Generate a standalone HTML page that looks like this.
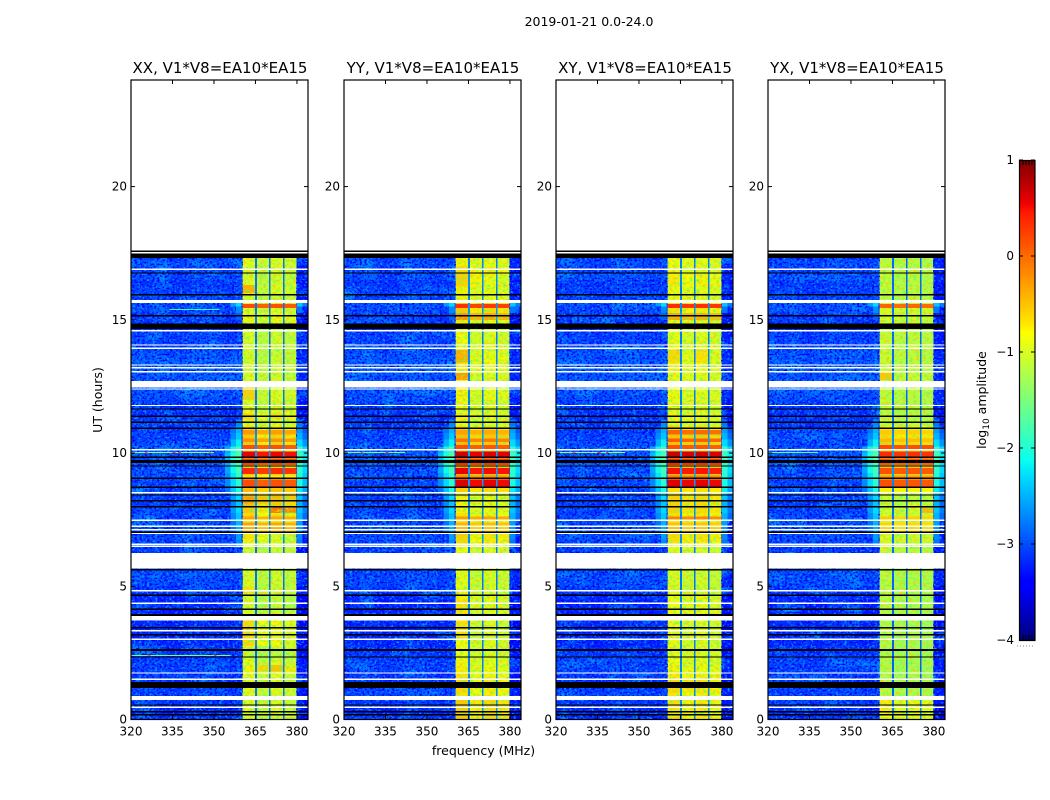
<!DOCTYPE html>
<html lang="en">
<head>
<meta charset="utf-8">
<title>2019-01-21 spectrogram</title>
<style>
html,body{margin:0;padding:0;background:#fff;width:1050px;height:800px;overflow:hidden}
svg{display:block}
text{font-family:"DejaVu Sans","Liberation Sans",sans-serif;fill:#000}
.tick{font-size:12px}
.title{font-size:15px;text-anchor:middle}
.label{font-size:12.5px}
</style>
</head>
<body>
<svg id="chart" xmlns="http://www.w3.org/2000/svg" width="1050" height="800" viewBox="0 0 1050 800">
  <defs>
    <filter id="grain-light" x="0%" y="0%" width="100%" height="100%" color-interpolation-filters="sRGB">
      <feTurbulence type="fractalNoise" baseFrequency="0.36 0.46" numOctaves="2" seed="4"/>
      <feColorMatrix type="matrix" values="0 0 0 0 0  0 0 0 0 0.6  0 0 0 0 1  5 0 0 0 -2.6"/>
    </filter>
    <filter id="grain-dark" x="0%" y="0%" width="100%" height="100%" color-interpolation-filters="sRGB">
      <feTurbulence type="fractalNoise" baseFrequency="0.4 0.5" numOctaves="2" seed="11"/>
      <feColorMatrix type="matrix" values="0 0 0 0 0  0 0 0 0 0  0 0 0 0 1  0 5 0 0 -2.4"/>
    </filter>
    <filter id="grain-patch" x="0%" y="0%" width="100%" height="100%" color-interpolation-filters="sRGB">
      <feTurbulence type="fractalNoise" baseFrequency="0.045 0.07" numOctaves="2" seed="23"/>
      <feColorMatrix type="matrix" values="0 0 0 0 0  0 0 0 0 0.7  0 0 0 0 1  2.4 0 0 0 -1.3"/>
    </filter>
    <filter id="grain-band-green" x="0%" y="0%" width="100%" height="100%" color-interpolation-filters="sRGB">
      <feTurbulence type="fractalNoise" baseFrequency="0.3 0.4" numOctaves="2" seed="31"/>
      <feColorMatrix type="matrix" values="0 0 0 0 0.35  0 0 0 0 1  0 0 0 0 0.4  3 0 0 0 -1.5"/>
    </filter>
    <filter id="grain-band-amber" x="0%" y="0%" width="100%" height="100%" color-interpolation-filters="sRGB">
      <feTurbulence type="fractalNoise" baseFrequency="0.3 0.4" numOctaves="2" seed="37"/>
      <feColorMatrix type="matrix" values="0 0 0 0 1  0 0 0 0 0.78  0 0 0 0 0  0 3 0 0 -1.5"/>
    </filter>
    <linearGradient id="jet-gradient" x1="0" y1="1" x2="0" y2="0">
      <stop offset="0" stop-color="#00007f"/>
      <stop offset="0.11" stop-color="#0000ff"/>
      <stop offset="0.125" stop-color="#0000ff"/>
      <stop offset="0.34" stop-color="#00dcff"/>
      <stop offset="0.375" stop-color="#09ffee"/>
      <stop offset="0.5" stop-color="#7cff79"/>
      <stop offset="0.64" stop-color="#ffff00"/>
      <stop offset="0.66" stop-color="#ffe600"/>
      <stop offset="0.89" stop-color="#ff1a00"/>
      <stop offset="0.91" stop-color="#ee0000"/>
      <stop offset="1" stop-color="#7f0000"/>
    </linearGradient>
  </defs>
  <text x="589" y="26" text-anchor="middle" class="label">2019-01-21 0.0-24.0</text>
  <g id="panels"></g>
  <text class="label" text-anchor="middle" transform="translate(102,400) rotate(-90)">UT (hours)</text>
  <text class="label" text-anchor="middle" x="483.5" y="755">frequency (MHz)</text>
  <g id="colorbar">
    <rect x="1019" y="160" width="16" height="480" fill="url(#jet-gradient)"/>
    <rect x="1019.5" y="160.5" width="15.5" height="480" fill="none" stroke="#000" stroke-width="1.2"/>
    <text class="label" text-anchor="middle" transform="translate(986,400) rotate(-90)">log<tspan font-size="9" dy="3">10</tspan><tspan dy="-3"> amplitude</tspan></text>
    <line x1="1017" y1="646" x2="1035" y2="646" stroke="#888" stroke-width="1" stroke-dasharray="1 2"/>
  </g>
</svg>
<script>
// ---------- chart data ----------
var panelTitles = ['XX, V1*V8=EA10*EA15', 'YY, V1*V8=EA10*EA15', 'XY, V1*V8=EA10*EA15', 'YX, V1*V8=EA10*EA15'];
var xTickValues = [320, 335, 350, 365, 380];
var yTickValues = [0, 5, 10, 15, 20];
var colorbarTickValues = [-4, -3, -2, -1, 0, 1];
var colorbarTickLabels = ['\u22124', '\u22123', '\u22122', '\u22121', '0', '1'];

// in-band log10 amplitude, one value per 0.25 h row from 0 h to 17.5 h
var levelsXX = [
 -1.0,-1.0,-1.0,-1.0,
 -0.95,-0.95,-0.95,-0.85,
 -1.0,-1.15,-1.15,-0.7,
 -0.7,-0.7,-0.7,-1.0,
 -1.1,-1.1,-1.1,-1.05,
 -1.05,-1.05,-1.05,-1.0,
 -1.0,-1.1,-0.85,-0.75,
 -0.6,-0.8,-0.7,-0.6,
 -0.55,-0.45,-0.6,-0.5,
 -0.6,-0.6,-0.5,-0.5,
 -0.6,-0.6,-0.6,-0.7,
 -0.95,-0.7,-0.95,-1.0,
 -0.95,-0.95,-1.0,-1.0,
 -1.05,-1.05,-1.05,-1.05,
 -1.05,-1.05,-1.05,-0.9,
 -0.85,-1.0,-1.0,-1.05,
 -0.95,-1.0,-1.05,-1.0,
 -0.95,-0.95];
var levelsYY = [
 -0.6,-0.6,-0.6,-0.75,
 -0.7,-0.7,-0.75,-0.8,
 -0.85,-0.9,-0.9,-0.9,
 -0.95,-0.95,-0.95,-1.0,
 -0.85,-0.85,-0.85,-0.95,
 -0.95,-0.95,-0.95,-0.95,
 -0.95,-0.9,-0.7,-0.65,
 -0.6,-0.8,-0.75,-0.85,
 -0.85,-0.85,-0.7,-0.5,
 -0.4,-0.4,-0.4,-0.4,
 -0.4,-0.5,-0.5,-0.6,
 -0.9,-0.8,-0.9,-0.9,
 -0.85,-0.85,-0.9,-0.85,
 -0.8,-0.8,-0.8,-0.85,
 -0.9,-0.9,-0.9,-0.8,
 -0.3,-0.6,-0.6,-0.85,
 -0.85,-0.65,-0.65,-0.7,
 -0.85,-0.85];
var levelsXY = [
 -0.7,-0.7,-0.7,-0.75,
 -0.65,-0.65,-0.75,-0.8,
 -0.85,-0.9,-0.9,-0.9,
 -0.9,-0.9,-0.9,-0.9,
 -0.85,-0.85,-0.85,-1.0,
 -1.0,-1.0,-1.0,-1.0,
 -1.0,-0.95,-0.7,-0.65,
 -0.6,-0.8,-0.7,-0.6,
 -0.6,-0.6,-0.6,-0.5,
 -0.4,-0.4,-0.4,-0.4,
 -0.4,-0.5,-0.5,-0.6,
 -0.9,-0.8,-0.9,-0.9,
 -0.85,-0.85,-0.85,-0.85,
 -0.8,-0.8,-0.85,-0.85,
 -0.9,-0.9,-0.9,-0.85,
 -0.35,-0.7,-0.7,-0.85,
 -0.85,-0.75,-0.75,-0.85,
 -0.85,-0.85];
var levelsYX = [
 -0.85,-0.85,-0.85,-1.2,
 -1.2,-1.2,-1.25,-1.25,
 -1.25,-1.25,-1.25,-1.25,
 -1.25,-1.25,-1.25,-1.25,
 -1.2,-1.2,-1.2,-1.2,
 -1.2,-1.2,-1.2,-1.2,
 -1.2,-1.1,-1.0,-1.0,
 -0.9,-1.0,-1.0,-1.05,
 -1.1,-1.1,-0.85,-0.8,
 -0.5,-0.5,-0.4,-0.4,
 -0.5,-0.6,-0.65,-0.75,
 -1.1,-1.15,-1.15,-1.15,
 -1.15,-1.15,-1.1,-1.05,
 -1.1,-1.1,-1.1,-1.1,
 -1.1,-1.1,-1.1,-1.05,
 -0.95,-1.0,-1.0,-1.15,
 -1.15,-1.15,-1.15,-1.15,
 -1.15,-1.15];
var bandOffsetsXX = [0.1, -0.1, 0.05, -0.05];
var bandOffsetsYY = [0.1, -0.1, 0, -0.08];
var bandOffsetsXY = [0.05, -0.05, 0, -0.08];
var bandOffsetsYX = [0.05, -0.05, 0, -0.05];

// narrow horizontal stripes crossing all four bands (start/end hours, level per panel)
var stripeStartHours = [15.45, 10.7, 10.42, 10.1, 9.87, 9.55, 9.22, 9.05, 8.75, 8.5, 7.5, 7.25, 7.02];
var stripeEndHours   = [15.6, 10.87, 10.55, 10.3, 10.05, 9.8, 9.43, 9.15, 9.0, 8.75, 7.62, 7.4, 7.2];
var stripeLevelsXX = [0.1, -0.3, -0.25, 0.1, 0.5, 0.2, 0.3, -0.7, 0.1, -0.5, -0.35, -0.35, -0.4];
var stripeLevelsYY = [0.25, -0.35, -0.1, 0.1, 0.6, 0.3, 0.5, -0.2, 0.55, -0.6, -0.3, -0.45, -0.5];
var stripeLevelsXY = [0.3, 0.0, 0.05, 0.1, 0.65, 0.35, 0.45, -0.1, 0.55, -0.65, -0.15, -0.5, -0.5];
var stripeLevelsYX = [0.0, -0.55, -0.45, 0.15, 0.3, 0.1, 0.1, -0.3, 0.1, -0.75, -0.55, -0.6, -0.6];

// band-specific brighter or dimmer patches
var patchPanels =     [0, 0, 0, 0, 0, 0, 0, 0, 0, 0, 0, 0, 0, 0, 1, 1, 1, 1, 1, 2, 2, 3, 3, 3, 3];
var patchBands =      [0, 2, 3, 1, 2, 3, 2, 3, 2, 3, 0, 1, 0, 0, 0, 0, 2, 3, 0, 0, 2, 0, 3, 2, 0];
var patchStartHours = [16.0, 2.7, 2.7, 1.8, 1.8, 1.8, 7.75, 7.75, 6.55, 6.55, 8.1, 8.1, 12.0, 4.75, 13.4, 12.75, 16.25, 16.25, 3.0, 13.4, 13.4, 12.75, 7.75, 7.75, 0.25];
var patchEndHours =   [16.3, 3.75, 3.75, 2.05, 2.05, 2.05, 8.0, 8.0, 7.0, 7.0, 8.37, 8.37, 12.5, 5.0, 13.87, 13.0, 16.7, 16.7, 4.5, 13.87, 13.87, 13.0, 8.0, 8.1, 0.75];
var patchDeltas =     [0.5, -0.15, -0.15, 0.35, 0.35, 0.2, 0.5, 0.5, -0.25, -0.25, 0.2, 0.2, 0.3, 0.3, 0.35, 0.5, -0.2, -0.2, 0.25, 0.2, 0.2, 0.5, 0.7, 0.1, 0.1];

// background (off-band) log10 amplitude, per 0.25 h row
var backgroundLevels = [
 -3.15,-3.2,-3.1,-3.05,
 -3.05,-3.15,-3.1,-3.05,
 -3.05,-3.1,-3.15,-3.2,
 -3.2,-3.2,-3.2,-3.25,
 -3.25,-3.25,-3.2,-3.1,
 -3.0,-3.0,-3.0,-3.0,
 -3.05,-3.1,-3.05,-3.0,
 -3.0,-3.05,-3.05,-3.05,
 -3.1,-3.05,-3.05,-3.05,
 -3.0,-3.0,-2.95,-2.95,
 -2.95,-3.0,-3.05,-3.1,
 -3.1,-3.15,-3.1,-3.05,
 -3.0,-2.95,-2.95,-2.95,
 -2.9,-2.9,-2.95,-3.0,
 -3.05,-3.05,-3.1,-3.1,
 -3.1,-3.0,-3.0,-3.05,
 -3.05,-3.1,-3.0,-3.05,
 -3.0,-3.05];
// per-2-MHz offset from the background level, 320 to 384 MHz
var channelOffsets = [
 0.02,0.06,0.0,0.04,0.1,0.03,0.0,-0.04,
 -0.02,0.0,0.05,0.1,0.06,0.07,0.09,0.03,
 0.04,-0.02,0.0,0.08,0,0,0,0,
 0,0,0,0,0,0,-0.18,-0.22];
// cyan spill-over beside the bands, per 0.25 h row (-4 = none)
var spillLevels = [
 -4,-4,-4,-4,
 -4,-4,-4,-4,
 -4,-4,-4,-4,
 -4,-4,-4,-4,
 -4,-4,-4,-4,
 -4,-4,-4,-4,
 -4,-4,-2.7,-2.6,
 -2.5,-2.5,-2.4,-2.3,
 -2.4,-2.3,-2.1,-2.0,
 -1.95,-1.85,-1.85,-1.75,
 -1.85,-2.2,-2.4,-2.5,
 -2.7,-4,-4,-4,
 -4,-4,-4,-4,
 -4,-4,-4,-4,
 -4,-4,-4,-4,
 -2.9,-2.7,-2.3,-4,
 -4,-4,-4,-4,
 -4,-4];
var spillColumnOffsets = [-1.3, -0.7, -0.3, 0];
var spillColumnStartsMHz = [352, 354, 356, 358];
var spillRightOffsets = [-0.1, -0.45];
var spillRightStartsMHz = [380, 382];

// sub-band edges and flagged hour ranges
var bandStartsMHz = [360.4, 365.5, 370.5, 375.5];
var bandEndsMHz = [364.9, 369.9, 374.9, 379.8];
var blackFlagStarts = [17.54,17.32,16.73,15.91,15.13,14.66,11.63,11.36,11.13,10.91,9.82,9.62,9.49,9.03,8.69,8.40,8.18,7.96,7.0,5.59,4.64,4.11,3.89,3.42,3.15,2.57,2.32,1.18,0.52,0.26,0.15];
var blackFlagEnds   = [17.60,17.49,16.78,15.96,15.18,14.87,11.68,11.41,11.18,10.96,9.87,9.74,9.54,9.08,8.74,8.45,8.23,8.01,7.05,5.64,4.70,4.16,3.95,3.47,3.20,2.64,2.37,1.40,0.57,0.31,0.20];
var whiteFlagStarts = [17.49,16.87,15.63,14.56,14.03,13.91,13.28,13.18,13.03,12.46,12.38,11.76,10.10,8.49,7.45,7.23,7.09,6.97,6.55,6.48,5.67,4.81,4.34,3.71,3.31,2.99,1.72,1.49,0.73,0.44];
var whiteFlagEnds   = [17.54,16.92,15.74,14.61,14.08,13.96,13.33,13.23,13.08,12.70,12.43,11.81,10.15,8.54,7.50,7.28,7.14,7.02,6.60,6.53,6.25,4.86,4.39,3.88,3.36,3.04,1.77,1.54,0.88,0.49];

// narrow interference lines: hour, panel, level, MHz range
var rfiHours = [10.03, 10.03, 10.03, 10.03, 15.4, 2.43];
var rfiPanels = [0, 1, 2, 3, 0, 0];
var rfiLevels = [-1.4, -1.5, -1.4, -1.7, -2.0, -1.5];
var rfiStartMHz = [320, 320, 320, 320, 334, 320];
var rfiEndMHz = [350, 342, 345, 338, 352, 356];
// hot single-channel points along those lines
var rfiDotPanels = [0, 0, 0, 0, 1, 1, 2, 2, 2, 0, 0];
var rfiDotHours = [10.03, 10.03, 10.03, 10.03, 10.03, 10.03, 10.03, 10.03, 10.03, 2.43, 2.43];
var rfiDotMHz = [325, 335, 337, 348, 326, 335, 326, 335, 338, 326, 350];
var rfiDotLevels = [0.1, 0.3, 0.3, -0.2, 0.0, 0.2, 0.0, 0.3, 0.2, 0.1, 0.2];

var dataHourTop = 17.32;

// ---------- layout ----------
var panelLefts = [131, 344, 556, 768];
var panelWidth = 177;
var plotTop = 80;
var plotBottom = 719.5;
var freqMin = 320, freqMax = 384;
var hourMin = 0, hourMax = 24;
var valueMin = -4, valueMax = 1;
var rowHours = 0.25;
var columnMHz = 2;
var spillColumnMHz = 2;
var svgNS = 'http://www.w3.org/2000/svg';

function xScale(panel, mhz) {
  return panelLefts[panel] + (mhz - freqMin) / (freqMax - freqMin) * panelWidth;
}
function yScale(hour) {
  return plotBottom - (hour - hourMin) / (hourMax - hourMin) * (plotBottom - plotTop);
}
function jetChannel(t, pts) {
  for (var i = 1; i < pts.length; i++) {
    if (t <= pts[i][0]) {
      var a = pts[i - 1], b = pts[i];
      return a[1] + (b[1] - a[1]) * (t - a[0]) / (b[0] - a[0]);
    }
  }
  return pts[pts.length - 1][1];
}
var jetR = [[0,0],[0.35,0],[0.66,1],[0.89,1],[1,0.5]];
var jetG = [[0,0],[0.125,0],[0.375,1],[0.64,1],[0.91,0],[1,0]];
var jetB = [[0,0.5],[0.11,1],[0.34,1],[0.65,0],[1,0]];
function colorScale(v) {
  var t = Math.max(0, Math.min(1, (v - valueMin) / (valueMax - valueMin)));
  return 'rgb(' + Math.round(255 * jetChannel(t, jetR)) + ',' +
    Math.round(255 * jetChannel(t, jetG)) + ',' +
    Math.round(255 * jetChannel(t, jetB)) + ')';
}
function makeRect(parent, name, x, y, w, h, fill) {
  var el = document.createElementNS(svgNS, 'rect');
  
  
  el.setAttribute('x', x);
  el.setAttribute('y', y);
  el.setAttribute('width', w);
  el.setAttribute('height', h);
  el.setAttribute('fill', fill);
  el.setAttribute('shape-rendering', 'crispEdges');
  parent.appendChild(el);
  return el;
}
function makeLine(parent, name, x1, y1, x2, y2) {
  var el = document.createElementNS(svgNS, 'line');
  
  
  el.setAttribute('x1', x1);
  el.setAttribute('y1', y1);
  el.setAttribute('x2', x2);
  el.setAttribute('y2', y2);
  el.setAttribute('stroke', '#000');
  el.setAttribute('stroke-width', '1');
  parent.appendChild(el);
  return el;
}
function makeText(parent, name, cls, x, y, anchor, str) {
  var el = document.createElementNS(svgNS, 'text');
  
  
  el.setAttribute('class', cls);
  el.setAttribute('x', x);
  el.setAttribute('y', y);
  el.setAttribute('text-anchor', anchor);
  el.textContent = str;
  parent.appendChild(el);
  return el;
}

// ---------- drawing ----------
var allLevels = [levelsXX, levelsYY, levelsXY, levelsYX];
var allOffsets = [bandOffsetsXX, bandOffsetsYY, bandOffsetsXY, bandOffsetsYX];
var allStripes = [stripeLevelsXX, stripeLevelsYY, stripeLevelsXY, stripeLevelsYX];
var panelsGroup = document.getElementById('panels');

function drawPanel(p) {
  var g = document.createElementNS(svgNS, 'g');
  
  
  panelsGroup.appendChild(g);
  var left = panelLefts[p], right = left + panelWidth;
  var levels = allLevels[p], offsets = allOffsets[p], stripes = allStripes[p];
  var r, c, k, s;

  // background and band cells
  for (r = 0; r < levels.length; r++) {
    var hour = r * rowHours;
    var yTop = yScale(hour + rowHours);
    var rowH = yScale(hour) - yTop;
    for (c = 0; c < channelOffsets.length; c++) {
      var f0 = freqMin + c * columnMHz;
      makeRect(g, 'background-cell', xScale(p, f0), yTop, xScale(p, f0 + columnMHz) - xScale(p, f0), rowH, colorScale(backgroundLevels[r] + channelOffsets[c]));
    }
    for (k = 0; k < bandStartsMHz.length; k++) {
      makeRect(g, 'band-cell', xScale(p, bandStartsMHz[k]), yTop, xScale(p, bandEndsMHz[k]) - xScale(p, bandStartsMHz[k]), rowH, colorScale(levels[r] + offsets[k]));
    }
  }

  // band-specific patches
  for (s = 0; s < patchPanels.length; s++) {
    if (patchPanels[s] !== p) continue;
    k = patchBands[s];
    var patchRow = Math.floor((patchStartHours[s] + patchEndHours[s]) / 2 / rowHours);
    var py = yScale(patchEndHours[s]);
    makeRect(g, 'band-patch', xScale(p, bandStartsMHz[k]), py, xScale(p, bandEndsMHz[k]) - xScale(p, bandStartsMHz[k]), yScale(patchStartHours[s]) - py, colorScale(levels[patchRow] + offsets[k] + patchDeltas[s]));
  }

  // noise texture overlays (visual only)
  var gy = yScale(dataHourTop), gh = plotBottom - gy;
  var bandLeft = xScale(p, bandStartsMHz[0]);
  var bandRight = xScale(p, bandEndsMHz[3]);
  var bgFilters = ['grain-patch', 'grain-light', 'grain-dark'];
  bgFilters.forEach(function (id) {
    makeRect(g, 'noise-texture-left', left, gy, bandLeft - left, gh, '#000').setAttribute('filter', 'url(#' + id + ')');
    makeRect(g, 'noise-texture-right', bandRight, gy, right - bandRight, gh, '#000').setAttribute('filter', 'url(#' + id + ')');
  });
  var bandFilters = ['grain-band-green', 'grain-band-amber'];
  bandFilters.forEach(function (id) {
    makeRect(g, 'band-texture', bandLeft, gy, bandRight - bandLeft, gh, '#000').setAttribute('filter', 'url(#' + id + ')');
  });

  // stripes across bands sit above the texture so hot rows stay solid
  for (s = 0; s < stripeStartHours.length; s++) {
    var sy = yScale(stripeEndHours[s]);
    for (k = 0; k < bandStartsMHz.length; k++) {
      makeRect(g, 'band-stripe', xScale(p, bandStartsMHz[k]), sy, xScale(p, bandEndsMHz[k]) - xScale(p, bandStartsMHz[k]), yScale(stripeStartHours[s]) - sy, colorScale(stripes[s] + offsets[k] * 0.5));
    }
  }

  // gaps between sub-bands and spill-over beside them
  for (r = 0; r < levels.length; r++) {
    var hr = r * rowHours;
    var ry = yScale(hr + rowHours);
    var rh = yScale(hr) - ry;
    var cellW = xScale(p, spillColumnMHz + freqMin) - xScale(p, freqMin);
    for (k = 0; k < bandStartsMHz.length - 1; k++) {
      makeRect(g, 'band-gap-cell', xScale(p, bandEndsMHz[k]), ry, xScale(p, bandStartsMHz[k + 1]) - xScale(p, bandEndsMHz[k]), rh, colorScale(levels[r] * 0.4 - 2.4));
    }
    if (spillLevels[r] > valueMin) {
      for (c = 0; c < spillColumnStartsMHz.length; c++) {
        var leftSpill = spillLevels[r] + spillColumnOffsets[c];
        if (leftSpill > backgroundLevels[r] + 0.1) {
          makeRect(g, 'spill-cell', xScale(p, spillColumnStartsMHz[c]), ry, cellW, rh, colorScale(leftSpill));
        }
      }
      for (c = 0; c < spillRightStartsMHz.length; c++) {
        var rightSpill = spillLevels[r] + spillRightOffsets[c];
        if (rightSpill > backgroundLevels[r] + 0.1) {
          makeRect(g, 'spill-cell', xScale(p, spillRightStartsMHz[c]), ry, cellW, rh, colorScale(rightSpill));
        }
      }
    }
  }

  // interference lines
  for (k = 0; k < rfiHours.length; k++) {
    if (rfiPanels[k] !== p) continue;
    makeRect(g, 'interference-line', xScale(p, rfiStartMHz[k]), yScale(rfiHours[k]), xScale(p, rfiEndMHz[k]) - xScale(p, rfiStartMHz[k]), 1, colorScale(rfiLevels[k]));
  }
  for (k = 0; k < rfiDotMHz.length; k++) {
    if (rfiDotPanels[k] !== p) continue;
    makeRect(g, 'interference-point', xScale(p, rfiDotMHz[k]), yScale(rfiDotHours[k]), xScale(p, rfiDotMHz[k] + 1) - xScale(p, rfiDotMHz[k]), 1, colorScale(rfiDotLevels[k]));
  }

  // flagged rows
  for (k = 0; k < whiteFlagStarts.length; k++) {
    var wy = yScale(whiteFlagEnds[k]);
    makeRect(g, 'flagged-row-white', left, wy, panelWidth, yScale(whiteFlagStarts[k]) - wy, '#fff');
  }
  for (k = 0; k < blackFlagStarts.length; k++) {
    var by = yScale(blackFlagEnds[k]);
    makeRect(g, 'flagged-row-black', left, by, panelWidth, yScale(blackFlagStarts[k]) - by, '#000');
  }

  // frame, ticks and labels
  var frame = makeRect(g, 'panel-frame', left, plotTop, panelWidth, plotBottom - plotTop, 'none');
  frame.setAttribute('stroke', '#000');
  frame.setAttribute('stroke-width', '1.2');
  frame.removeAttribute('shape-rendering');

  xTickValues.forEach(function (t) {
    var x = xScale(p, t);
    makeLine(g, 'x-tick', x, plotBottom, x, plotBottom - 4);
    makeLine(g, 'x-tick-top', x, plotTop, x, plotTop + 4);
    makeText(g, 'x-tick-label', 'tick', x, plotBottom + 16, 'middle', String(t));
  });
  yTickValues.forEach(function (t) {
    var y = yScale(t);
    makeLine(g, 'y-tick', left, y, left + 4, y);
    makeLine(g, 'y-tick-right', right, y, right - 4, y);
    makeText(g, 'y-tick-label', 'tick', left - 4, y + 4, 'end', String(t));
  });
  makeText(g, 'panel-title', 'title', left + panelWidth / 2 + 0.5, 73, 'middle', panelTitles[p]);
}
for (var p = 0; p < panelTitles.length; p++) {
  drawPanel(p);
}

// colorbar ticks
var cb = document.getElementById('colorbar');
var cbTop = 160, cbBottom = 640, cbLeft = 1019, cbRight = 1035;
function cbScale(v) {
  return cbBottom - (v - valueMin) / (valueMax - valueMin) * (cbBottom - cbTop);
}
colorbarTickValues.forEach(function (v, i) {
  var y = cbScale(v);
  makeLine(cb, 'colorbar-tick', cbLeft, y, cbLeft + 4, y);
  makeLine(cb, 'colorbar-tick', cbRight, y, cbRight - 4, y);
  makeText(cb, 'colorbar-tick-label', 'tick', cbLeft - 5, y + 4, 'end', colorbarTickLabels[i]);
});
var cbMinorTicks = [1023, 1026, 1029, 1032];
cbMinorTicks.forEach(function (x) {
  makeLine(cb, 'colorbar-minor-tick', x, cbTop, x, cbTop + 5);
  makeLine(cb, 'colorbar-minor-tick', x, cbBottom, x, cbBottom - 5);
});
</script>
</body>
</html>
